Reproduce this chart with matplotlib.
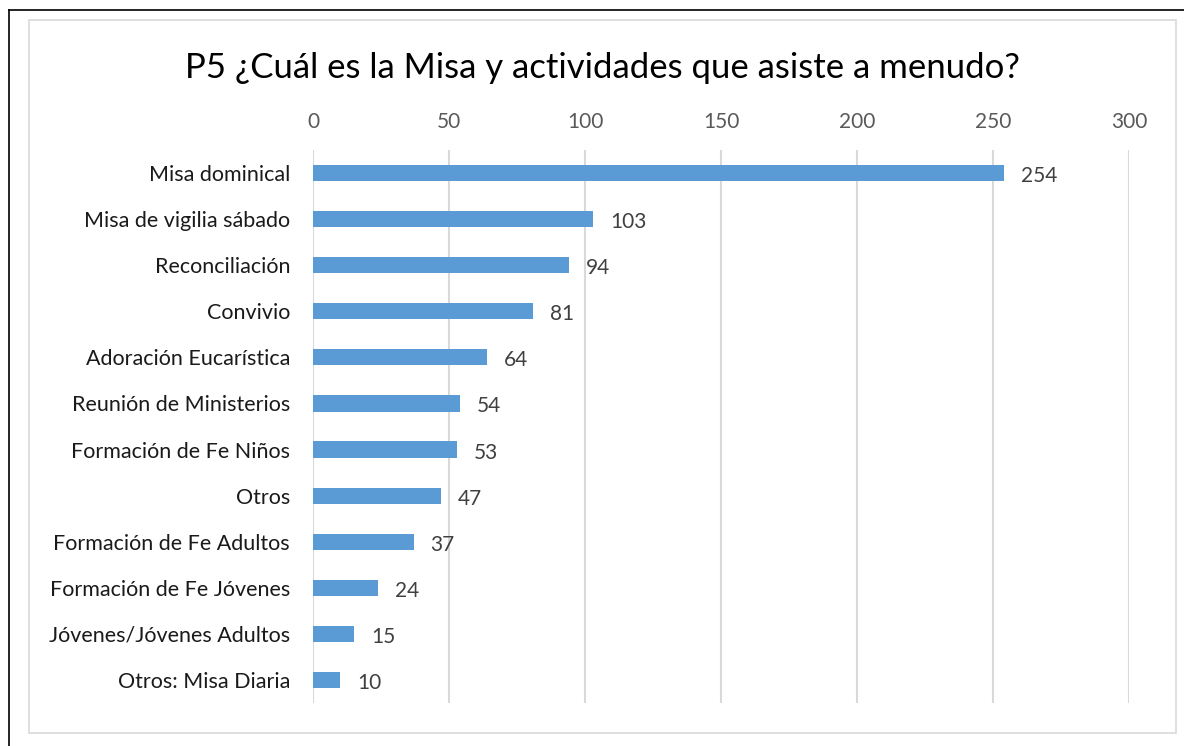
import matplotlib.pyplot as plt
from matplotlib.lines import Line2D
from matplotlib.patches import Rectangle

plt.rcParams['font.family'] = ['Lato', 'DejaVu Sans']

# Data
categories = [
    "Misa dominical", "Misa de vigilia sábado", "Reconciliación", "Convivio",
    "Adoración Eucarística", "Reunión de Ministerios", "Formación de Fe Niños",
    "Otros", "Formación de Fe Adultos", "Formación de Fe Jóvenes",
    "Jóvenes/Jóvenes Adultos", "Otros: Misa Diaria",
]
values = [254, 103, 94, 81, 64, 54, 53, 47, 37, 24, 15, 10]
x_ticks = [0, 50, 100, 150, 200, 250, 300]

W, H = 1184, 746
fig = plt.figure(figsize=(W / 100, H / 100), dpi=100)

# outer black frame (only left/top visible) and gray chart border
fig.add_artist(Line2D([9 / W, 9 / W], [0, 1 - 10 / H], color="black", lw=1.2))
fig.add_artist(Line2D([9 / W, 1], [1 - 10 / H, 1 - 10 / H], color="black", lw=1.2))
fig.add_artist(Rectangle((29 / W, 1 - 733 / H), (1176 - 29) / W, (733 - 20) / H,
                         fill=False, edgecolor="#D9D9D9", lw=1.2))

ax = fig.add_axes([313 / W, 1 - 703 / H, (1129 - 313) / W, (703 - 150) / H])
pos = list(range(len(categories)))
ax.barh(pos, values, height=0.35, color="#5B9BD5", zorder=3)
ax.set_ylim(len(categories) - 0.5, -0.5)
ax.set_xlim(0, 300)
ax.set_xticks(x_ticks)
ax.xaxis.tick_top()
ax.tick_params(axis="x", length=0, pad=13, labelsize=15, labelcolor="#595959")
ax.tick_params(axis="y", length=0, pad=16.5, labelsize=15.5, labelcolor="#1a1a1a")
ax.set_yticks(pos)
ax.set_yticklabels(categories)
ax.grid(axis="x", color="#D9D9D9", lw=1.5, zorder=0)
for s in ax.spines.values():
    s.set_visible(False)

for p, v in zip(pos, values):
    ax.annotate(str(v), (v, p), xytext=(17, -3), textcoords="offset pixels",
                va="center", ha="left", fontsize=15, color="#404040")

fig.text(602 / W, 1 - 68 / H, "P5 ¿Cuál es la Misa y actividades que asiste a menudo?",
         ha="center", va="center", fontsize=25, color="black")

fig.savefig("out.png", dpi=100)
